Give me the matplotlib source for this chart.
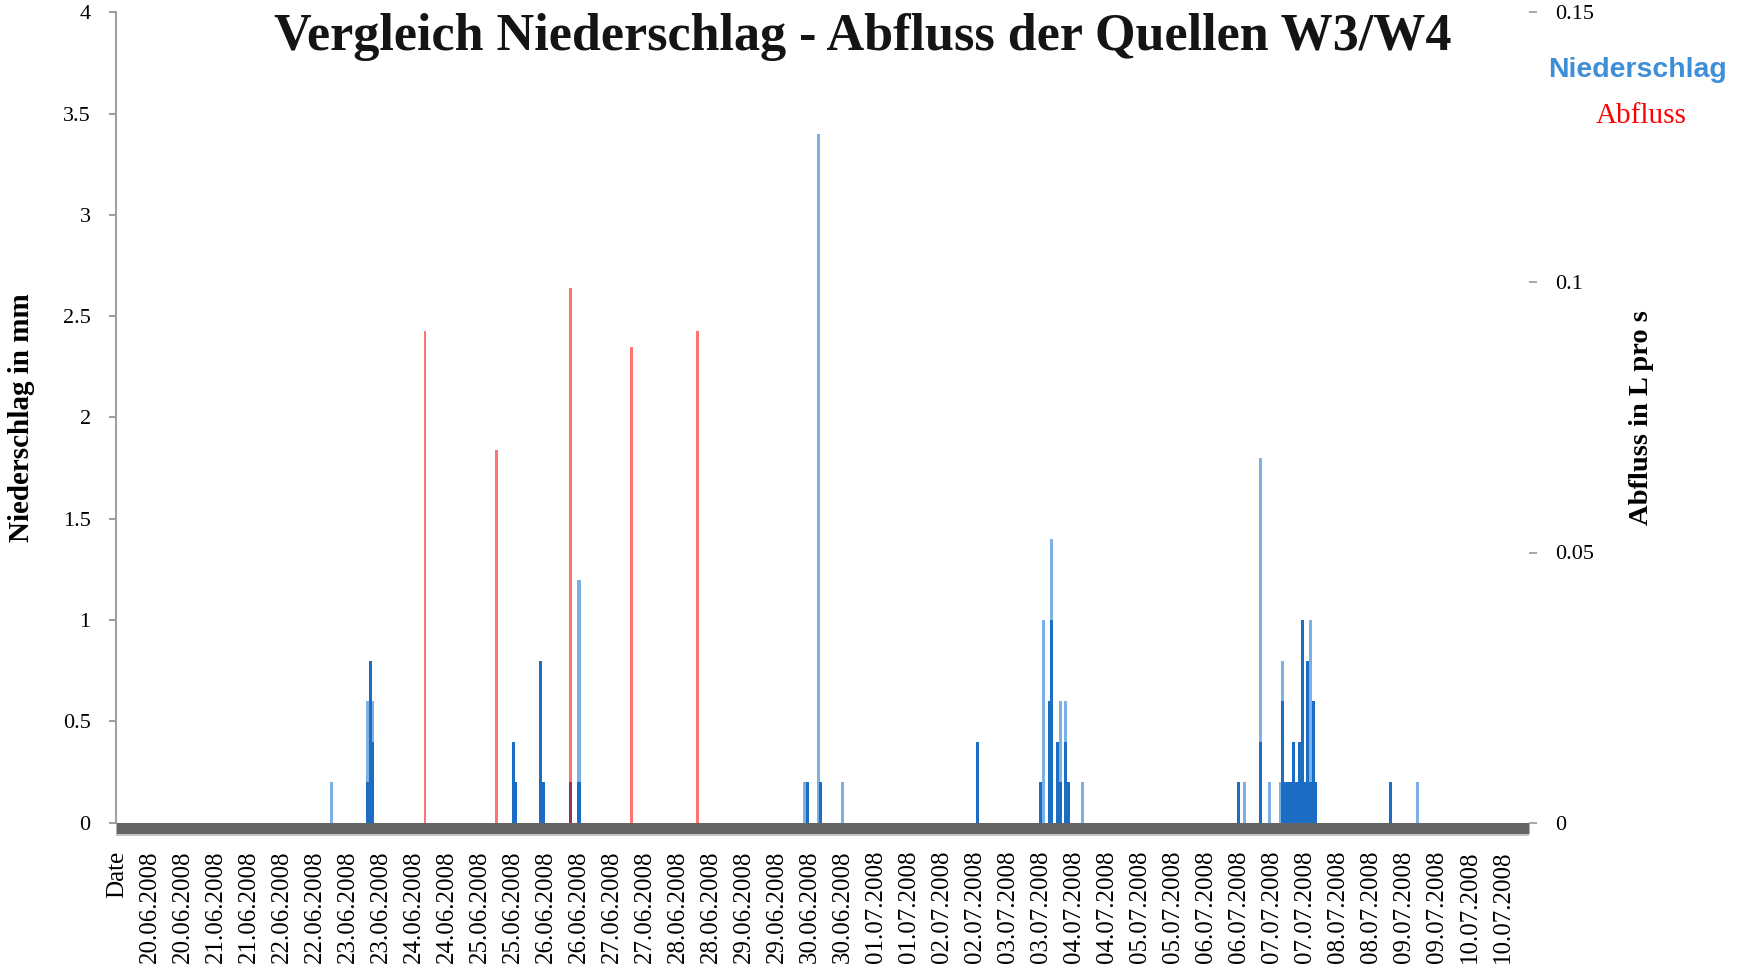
import matplotlib
matplotlib.use("Agg")
import matplotlib.pyplot as plt
from matplotlib.transforms import offset_copy

# ---------------- data (x = hourly category index, 0 = header row "Date") ----------------
tick_labels = ["Date",
               "20.06.2008", "20.06.2008", "21.06.2008", "21.06.2008", "22.06.2008", "22.06.2008",
               "23.06.2008", "23.06.2008", "24.06.2008", "24.06.2008", "25.06.2008", "25.06.2008",
               "26.06.2008", "26.06.2008", "27.06.2008", "27.06.2008", "28.06.2008", "28.06.2008",
               "29.06.2008", "29.06.2008", "30.06.2008", "30.06.2008", "01.07.2008", "01.07.2008",
               "02.07.2008", "02.07.2008", "03.07.2008", "03.07.2008", "04.07.2008", "04.07.2008",
               "05.07.2008", "05.07.2008", "06.07.2008", "06.07.2008", "07.07.2008", "07.07.2008",
               "08.07.2008", "08.07.2008", "09.07.2008", "09.07.2008", "10.07.2008", "10.07.2008"]
n_categories = 514
label_every = 12

# Niederschlag (mm) - light series
rain_light_idx = [78, 91, 93, 168, 250, 255, 264, 337, 340, 343, 345, 351,
                  410, 416, 419, 423, 424, 430, 431, 434, 473]
rain_light_val = [0.2, 0.6, 0.6, 1.2, 0.2, 3.4, 0.2, 1.0, 1.4, 0.6, 0.6, 0.2,
                  0.2, 1.8, 0.2, 0.2, 0.8, 0.4, 1.0, 1.0, 0.2]

# Niederschlag (mm) - dark series
rain_dark_idx = [91, 92, 93, 144, 145, 154, 155, 165, 168, 251, 256, 313,
                 336, 339, 340, 342, 343, 345, 346,
                 408, 416, 424, 425, 426, 427, 428, 429, 430, 431, 432, 433, 434, 435, 436, 463]
rain_dark_val = [0.2, 0.8, 0.4, 0.4, 0.2, 0.8, 0.2, 0.2, 0.2, 0.2, 0.2, 0.4,
                 0.2, 0.6, 1.0, 0.4, 0.2, 0.4, 0.2,
                 0.2, 0.4, 0.6, 0.2, 0.2, 0.2, 0.4, 0.2, 0.4, 1.0, 0.2, 0.8, 0.2, 0.6, 0.2, 0.2]

# Abfluss (L pro s)
flow_idx = [112, 138, 165, 187, 211]
flow_val = [0.091, 0.069, 0.099, 0.088, 0.091]

left_ticks = [0, 0.5, 1, 1.5, 2, 2.5, 3, 3.5, 4]
left_ticklabels = ["0", "0.5", "1", "1.5", "2", "2.5", "3", "3.5", "4"]
right_ticks = [0, 0.05, 0.1, 0.15]
right_ticklabels = ["0", "0.05", "0.1", "0.15"]

# ---------------- figure ----------------
W, H, DPI = 1746, 973, 100
fig = plt.figure(figsize=(W / DPI, H / DPI), dpi=DPI, facecolor="white")
L, R, B, T = 115.7, 1529.0, 822.5, 12.5
ax = fig.add_axes([L / W, 1 - B / H, (R - L) / W, (B - T) / H])
ax2 = ax.twinx()

serif = "Liberation Serif"
LIGHT = "#7db1e5"
DARK = "#1b6ec4"
GRID = "#a0a0a0"

ax.bar(rain_light_idx, rain_light_val, width=1.1, color=LIGHT, linewidth=0, zorder=2)
ax.bar(rain_dark_idx, rain_dark_val, width=1.1, color=DARK, linewidth=0, zorder=3)
ax2.bar(flow_idx, flow_val, width=0.95, color="#ff0000", alpha=0.55, linewidth=0, zorder=3)

ax.set_xlim(-0.5, n_categories - 0.5)
ax.set_ylim(0, 4)
ax2.set_ylim(0, 0.15)

# x ticks
ax.set_xticks(range(0, label_every * len(tick_labels), label_every))
ax.set_xticklabels(tick_labels, rotation=90, fontsize=18, family=serif, va="top", ha="center")
ax.tick_params(axis="x", length=0, pad=20)

# left axis
ax.set_yticks(left_ticks)
ax.set_yticklabels(left_ticklabels, fontsize=16, family=serif)
ax.tick_params(axis="y", length=5, width=1.5, color=GRID, pad=13)
for s in ["top", "right", "bottom"]:
    ax.spines[s].set_visible(False)
ax.spines["left"].set_color(GRID)
ax.spines["left"].set_linewidth(1.5)

# right axis
ax2.set_yticks(right_ticks)
ax2.set_yticklabels(right_ticklabels, fontsize=16, family=serif)
ax2.tick_params(axis="y", length=6, width=1.3, color=GRID, pad=13)
for s in ["top", "left", "bottom", "right"]:
    ax2.spines[s].set_visible(False)

# thick grey baseline band below zero
band_tr = offset_copy(ax.get_yaxis_transform(), fig=fig, y=-5.5, units="dots")
ax.plot([0, 1], [0, 0], transform=band_tr, color="#646464", lw=11 * 0.72,
        solid_capstyle="butt", clip_on=False, zorder=6)
shadow_tr = offset_copy(ax.get_yaxis_transform(), fig=fig, y=-12, units="dots")
ax.plot([0, 1], [0, 0], transform=shadow_tr, color="#c4c4c4", lw=2 * 0.72,
        solid_capstyle="butt", clip_on=False, zorder=6)

# texts
fig.text(863 / W, 1 - 37 / H, "Vergleich Niederschlag - Abfluss der Quellen W3/W4",
         fontsize=37.5, fontweight="bold", family=serif, ha="center", va="center", color="#141414")
fig.text(22 / W, 1 - 418 / H, "Niederschlag in mm", rotation=90, fontsize=21,
         fontweight="bold", family=serif, ha="center", va="center")
fig.text(1642 / W, 1 - 418 / H, "Abfluss in L pro s", rotation=90, fontsize=20.5,
         fontweight="bold", family=serif, ha="center", va="center")
fig.text(1638 / W, 1 - 70 / H, "Niederschlag", fontsize=20.5, fontweight="bold",
         family="Liberation Sans", color="#3f8fd8", ha="center", va="center")
fig.text(1641 / W, 1 - 116 / H, "Abfluss", fontsize=21, family=serif,
         color="#ff0000", ha="center", va="center")

fig.savefig("out.png", dpi=DPI, facecolor="white")
